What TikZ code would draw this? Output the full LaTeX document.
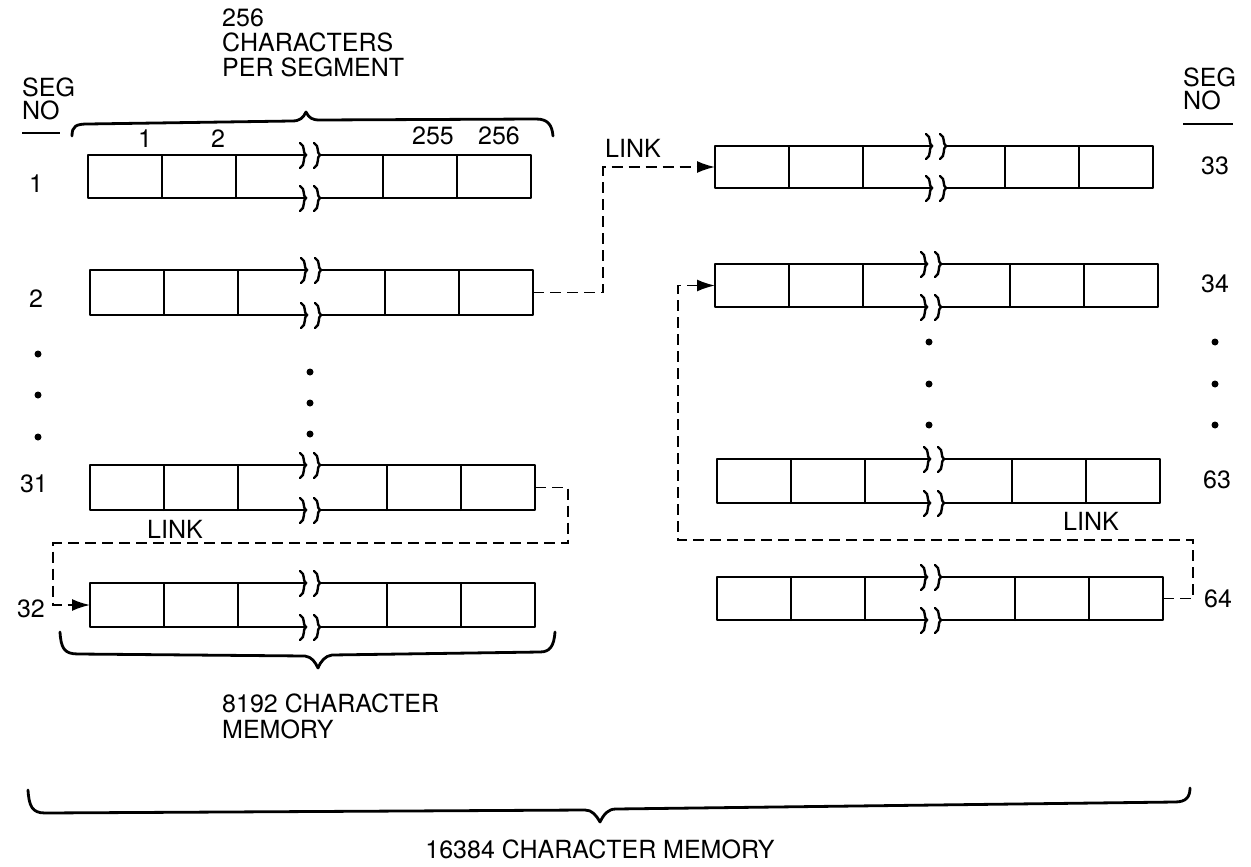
\documentclass[tikz,border=0pt]{standalone}
\usepackage{fontspec}
\setmainfont{TeX Gyre Heros}
\usetikzlibrary{arrows.meta,calc}
\newcommand\brk[2]{\draw[mark line] ({#1-6},{#2-12}) .. controls ({#1},{#2-9}) and ({#1-4},{#2-2}) .. ({#1},{#2}) .. controls ({#1-4},{#2+2}) and ({#1},{#2+10}) .. ({#1-6},{#2+13});}
\newcommand\segrow[6]{%
  \node[minimum width={#3-#2}, minimum height={#5-#4}, inner sep=0pt, outer sep=0pt] (#1) at ({(#2+#3)/2},{(#4+#5)/2}) {};
  \draw[box] ({#6},#4) -- (#2,#4) -- (#2,#5) -- ({#6},#5);
  \draw[box] ({#6+14},#4) -- (#3,#4) -- (#3,#5) -- ({#6+14},#5);
  \brk{#6}{#4}\brk{#6+14}{#4}\brk{#6}{#5}\brk{#6+14}{#5}
  \draw[box] ({#2+74},#4) -- ({#2+74},#5);
  \draw[box] ({#2+148},#4) -- ({#2+148},#5);
  \draw[box] ({#3-148},#4) -- ({#3-148},#5);
  \draw[box] ({#3-74},#4) -- ({#3-74},#5);
}
\begin{document}
\begin{tikzpicture}[x=1pt,y=-1pt,
  box/.style={line width=2pt, line cap=round, line join=round},
  mark line/.style={line width=2.4pt, line cap=round},
  link/.style={line width=1.8pt, dash pattern=on 11pt off 6pt},
  brace/.style={line width=2.8pt, line cap=round, line join=round},
  lbl/.style={inner sep=0pt, anchor=base west, font=\fontsize{25}{28}\selectfont},
  num/.style={inner sep=0pt, anchor=base, font=\fontsize{25}{28}\selectfont},
  dot/.style={circle, fill, inner sep=0pt, minimum size=7pt},
  tip/.style={-{Latex[length=18pt,width=12pt]}}]
\useasboundingbox (0,0) rectangle (1251,867);

% segments
\segrow{s1}{88}{531}{155}{198}{306}
\segrow{s2}{90}{533}{270}{315}{307}
\segrow{s31}{90}{535}{465}{510}{306}
\segrow{s32}{90}{535}{583}{627}{306}
\segrow{s33}{715}{1153}{146}{188}{932}
\segrow{s34}{715}{1158}{264}{307}{927}
\segrow{s63}{717}{1160}{459}{503}{930}
\segrow{s64}{717}{1163}{577}{620}{927}

% dots
\node[dot] (dl1) at (38,354) {};
\node[dot] (dl2) at (38,395) {};
\node[dot] (dl3) at (38,437) {};
\node[dot] (dm1) at (310,372) {};
\node[dot] (dm2) at (310,403) {};
\node[dot] (dm3) at (310,434) {};
\node[dot] (dr1) at (929,342) {};
\node[dot] (dr2) at (929,384) {};
\node[dot] (dr3) at (929,425) {};
\node[dot] (ds1) at (1215,342) {};
\node[dot] (ds2) at (1215,384) {};
\node[dot] (ds3) at (1215,425) {};

% labels
\node[lbl] (t256) at (222,27) {256};
\node[lbl] (tchar) at (222,52) {CHARACTERS};
\node[lbl] (tper) at (222,77) {PER SEGMENT};
\node[lbl] (segL) at (22,96) {SEG};
\node[lbl] (noL) at (22,120) {NO};
\draw[line width=1.2pt] (22,133) -- (60,133);
\node[lbl] (segR) at (1183,86) {SEG};
\node[lbl] (noR) at (1183,110) {NO};
\draw[line width=1.2pt] (1183,124) -- (1233,124);

\node[num] (c1) at (145,147) {1};
\node[num] (c2) at (218,147) {2};
\node[num] (c255) at (433,144) {255};
\node[num] (c256) at (499,144) {256};

\node[num] (n1) at (36,192) {1};
\node[num] (n2) at (36,307) {2};
\node[num] (n31) at (34,492) {31};
\node[num] (n32) at (31,617) {32};
\node[num] (n33) at (1215,174) {33};
\node[num] (n34) at (1215,292) {34};
\node[num] (n63) at (1217,488) {63};
\node[num] (n64) at (1218,607) {64};

\node[lbl] (lk1) at (605,157) {LINK};
\node[lbl] (lk2) at (147,538) {LINK};
\node[lbl] (lk3) at (1063,530) {LINK};

\node[lbl] (m8192) at (222,712) {8192 CHARACTER};
\node[lbl] (m8192b) at (222,738) {MEMORY};
\node[num] (m16384) at (600,858) {16384 CHARACTER MEMORY};

% links
\coordinate (k1) at (603,0);
\draw[link, tip] (s2.east) -| (k1 |- s33.west) -- (s33.west);
\coordinate (k2) at (568,543);
\coordinate (k3) at (53,543);
\draw[link, tip] (s31.east) -| (k2) -- (k3) |- (s32.west);
\coordinate (k4) at (1193,540);
\coordinate (k5) at (678,540);
\draw[link, tip] (s64.east) -| (k4) -- (k5) |- (s34.west);

% braces
\draw[brace] (72,136) .. controls (72,126) and (76,124) .. (88,124) -- (292,121) .. controls (300,121) and (303,118) .. (306,112) .. controls (309,118) and (312,120) .. (320,120) -- (536,119) .. controls (548,119) and (552,125) .. (553,136);
\draw[brace] (60,632) .. controls (61,648) and (64,654) .. (78,654) -- (305,656) .. controls (312,657) and (315,662) .. (318,668) .. controls (321,661) and (325,656) .. (332,655) -- (540,652) .. controls (550,652) and (554,646) .. (555,632);
\draw[brace] (28,790) .. controls (29,806) and (32,813) .. (45,813) -- (585,810) .. controls (592,810) and (596,815) .. (600,822) .. controls (604,814) and (608,809) .. (616,809) -- (1175,802) .. controls (1186,802) and (1190,797) .. (1190,788);
\end{tikzpicture}
\end{document}
